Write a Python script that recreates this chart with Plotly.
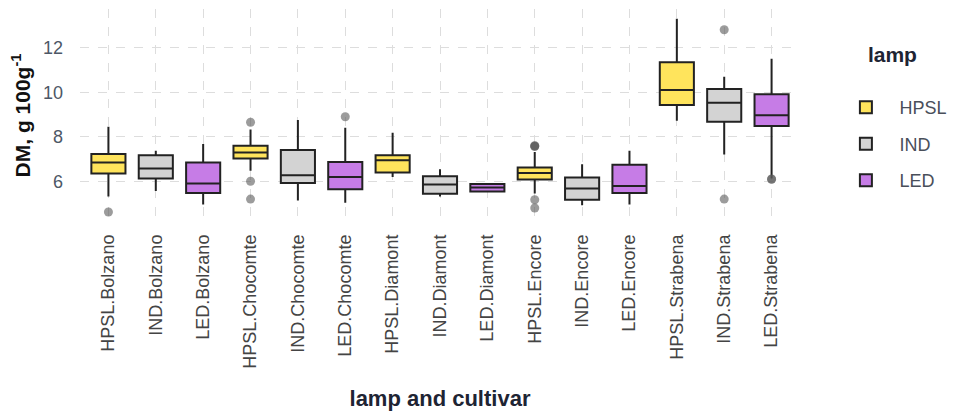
import plotly.graph_objects as go

categories = ["HPSL.Bolzano", "IND.Bolzano", "LED.Bolzano",
              "HPSL.Chocomte", "IND.Chocomte", "LED.Chocomte",
              "HPSL.Diamont", "IND.Diamont", "LED.Diamont",
              "HPSL.Encore", "IND.Encore", "LED.Encore",
              "HPSL.Strabena", "IND.Strabena", "LED.Strabena"]
lamps = ["HPSL", "IND", "LED"]

lower = [5.32, 5.56, 4.96, 6.47, 5.14, 5.04, 6.19, 5.32, 5.54, 5.45, 4.92, 4.96, 8.72, 7.20, 6.12]
q1 =    [6.35, 6.12, 5.47, 7.02, 5.92, 5.64, 6.39, 5.44, 5.54, 6.08, 5.17, 5.47, 9.43, 8.67, 8.48]
med =   [6.84, 6.57, 5.90, 7.29, 6.27, 6.19, 6.95, 5.85, 5.72, 6.37, 5.67, 5.79, 10.10, 9.53, 8.97]
q3 =    [7.23, 7.17, 6.84, 7.60, 7.40, 6.87, 7.17, 6.23, 5.88, 6.62, 6.17, 6.74, 11.35, 10.15, 9.91]
upper = [8.45, 7.37, 7.67, 8.33, 8.75, 8.40, 8.18, 6.54, 5.88, 7.32, 6.77, 7.37, 13.30, 10.70, 11.50]

outlier_x = ["HPSL.Bolzano", "HPSL.Chocomte", "HPSL.Chocomte", "HPSL.Chocomte",
             "LED.Chocomte", "HPSL.Encore", "HPSL.Encore", "HPSL.Encore", "HPSL.Encore",
             "HPSL.Encore", "IND.Strabena", "IND.Strabena", "LED.Strabena", "LED.Strabena"]
outlier_y = [4.62, 8.65, 6.00, 5.20, 8.90, 7.58, 7.56, 7.60, 5.17, 4.80, 12.81, 5.20, 6.09, 6.10]

colors = {"HPSL": "#FFE45C", "IND": "#D3D3D3", "LED": "#C67CE6"}
y_ticks = [6, 8, 10, 12]

fig = go.Figure()
for lamp in lamps:
    idx = [i for i, c in enumerate(categories) if c.split(".")[0] == lamp]
    fig.add_trace(go.Box(
        name=lamp,
        legendgroup=lamp,
        x=[categories[i] for i in idx],
        q1=[q1[i] for i in idx],
        median=[med[i] for i in idx],
        q3=[q3[i] for i in idx],
        lowerfence=[lower[i] for i in idx],
        upperfence=[upper[i] for i in idx],
        fillcolor=colors[lamp],
        line=dict(color="#222222", width=2),
        width=0.72,
        whiskerwidth=0,
        boxpoints=False,
        hoverinfo="skip",
    ))

fig.add_trace(go.Scatter(
    x=outlier_x, y=outlier_y, mode="markers",
    marker=dict(color="rgba(90,90,90,0.6)", size=9),
    showlegend=False, hoverinfo="skip",
))

fig.update_layout(
    width=949, height=412,
    margin=dict(l=72, r=157, t=1, b=198, autoexpand=False),
    paper_bgcolor="white", plot_bgcolor="white",
    font=dict(family="Liberation Sans, Arial, sans-serif", size=14, color="#444444"),
    boxmode="overlay",
    showlegend=True,
    legend=dict(
        title=dict(text="<b>lamp</b><br> ", font=dict(size=21, color="#1e2433"), side="top center"),
        x=1.045, xanchor="left", y=0.88, yanchor="top",
        font=dict(size=18, color="#4a4f5a"),
        tracegroupgap=10,
        itemwidth=57,
    ),
)

fig.update_xaxes(
    type="category",
    categoryorder="array", categoryarray=categories,
    range=[-0.6, 14.6],
    showgrid=True, gridcolor="#DDDDDD", griddash="dash", gridwidth=1,
    zeroline=False, showline=False, ticks="",
    tickangle=-90, ticklabelstandoff=8,
    tickfont=dict(size=18, color="#444444"),
    automargin=False,
    title=dict(text="<b>lamp and cultivar</b>", font=dict(size=22, color="#1e2433"), standoff=22),
)
fig.update_yaxes(
    range=[4.17, 13.74],
    tickvals=y_ticks, ticktext=[str(v) for v in y_ticks],
    showgrid=True, gridcolor="#DDDDDD", griddash="dash", gridwidth=1,
    zeroline=False, showline=False, ticks="",
    tickfont=dict(size=18, color="#4d5766"),
    ticklabelstandoff=16,
    automargin=False,
    title=dict(text="<b>DM, g 100g<sup>-1</sup></b>", font=dict(size=21, color="#111111"), standoff=17),
)

fig.write_html("out.html")
